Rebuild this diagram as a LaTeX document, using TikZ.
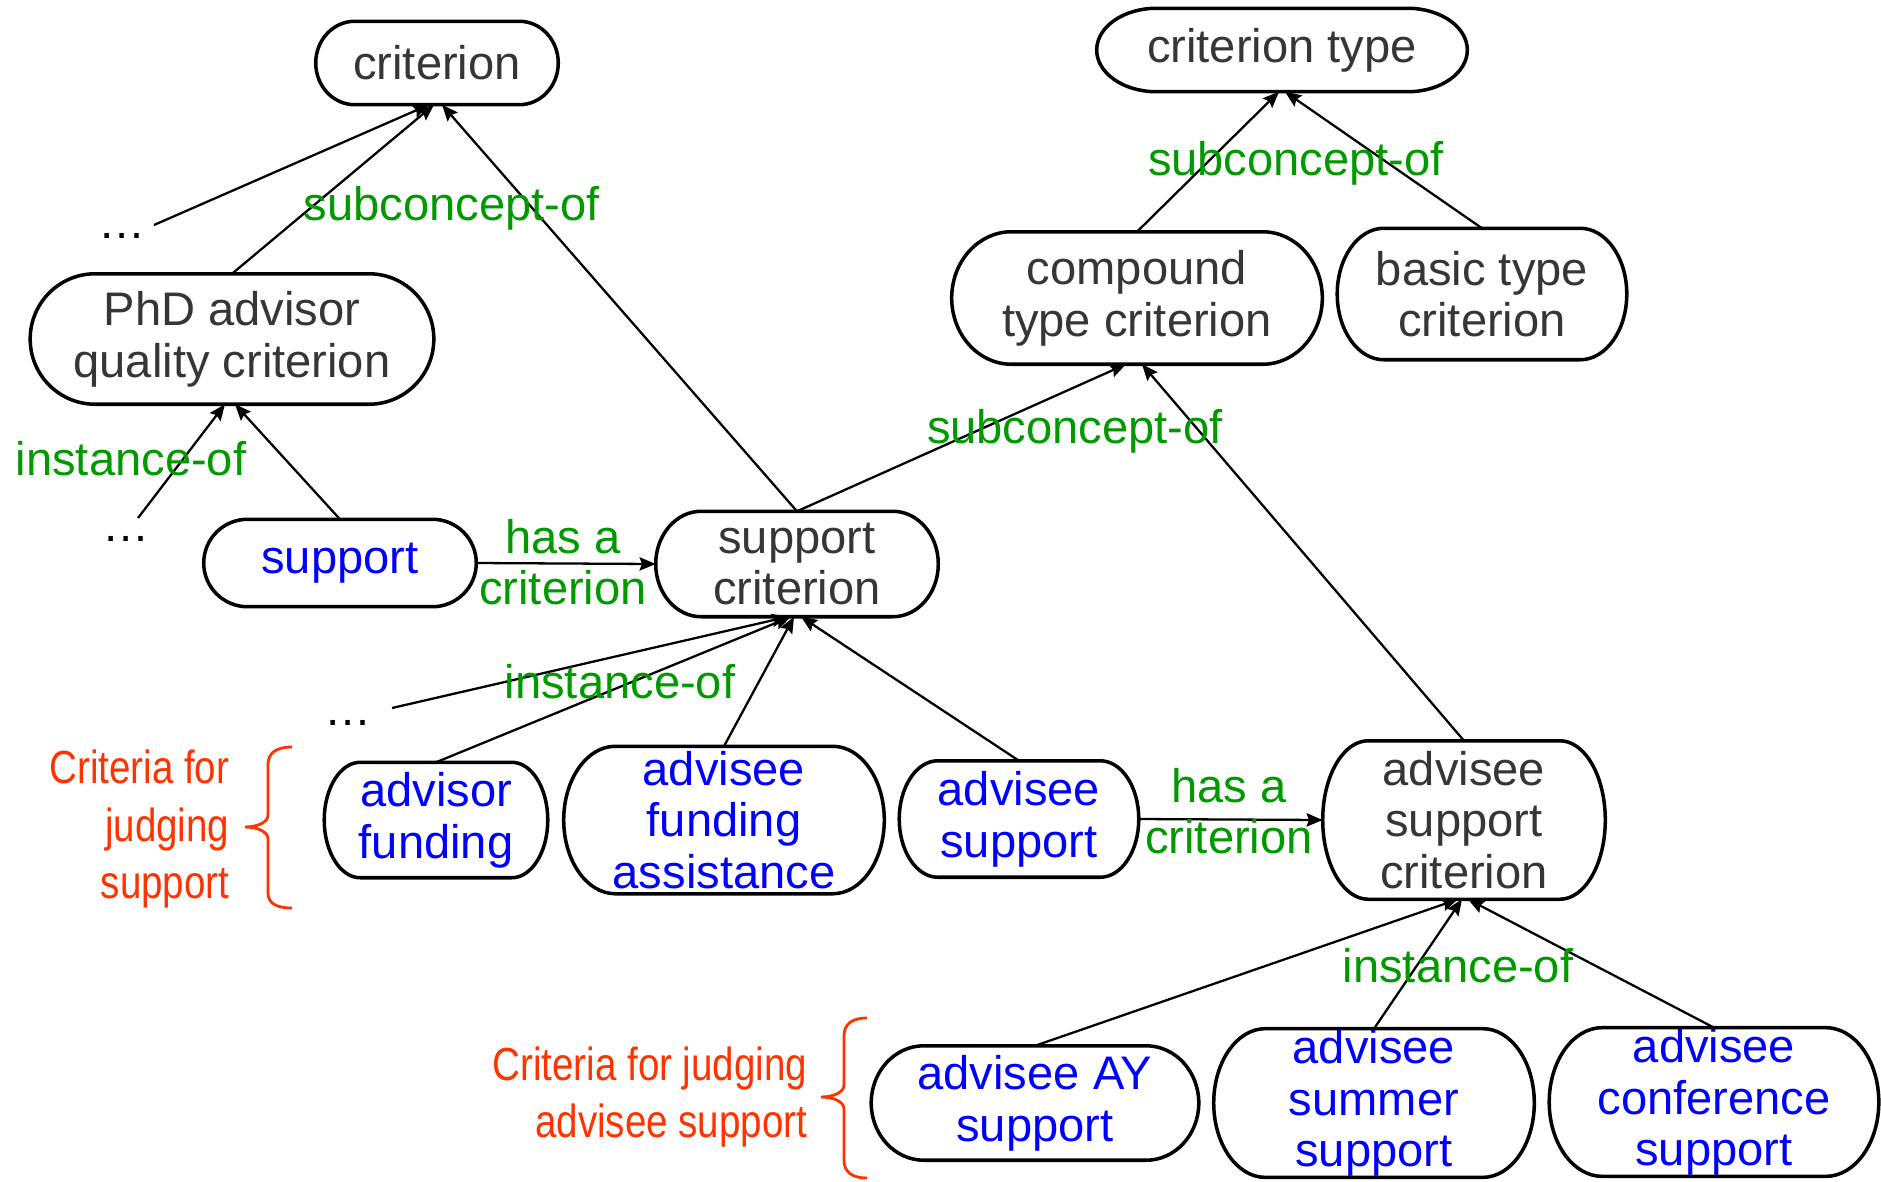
\documentclass[tikz,border=0pt]{standalone}
\usepackage{fontspec}
\setmainfont{Liberation Sans}
\newfontfamily\narrowfont{Liberation Sans}[FakeStretch=0.83]
\usetikzlibrary{calc,arrows.meta}
\definecolor{cgray}{HTML}{363636}
\definecolor{cblue}{HTML}{0000FF}
\definecolor{cgreen}{HTML}{009900}
\definecolor{cred}{HTML}{FF3300}
\newcommand\termout[1]{%
  \draw[nodeline] let \p1=(#1.south west), \p2=(#1.north east),
    \n1={0.161*abs(\x2-\x1)}, \n2={0.5*abs(\y2-\y1)} in
    (\x1+\n1,\y2) -- (\x2-\n1,\y2)
    arc[start angle=90,end angle=-90,x radius=\n1,y radius=\n2]
    -- (\x1+\n1,\y1)
    arc[start angle=270,end angle=90,x radius=\n1,y radius=\n2] -- cycle;}
\tikzset{
  nodeline/.style={line width=1pt, line join=round},
  box/.style={draw=none, inner sep=0pt, align=center,
    font=\fontsize{13.4}{14.7}\selectfont},
  concept/.style={box, text=cgray},
  inst/.style={box, text=cblue},
  rel/.style={inner sep=0pt, align=center, text=cgreen,
    font=\fontsize{13.4}{14.6}\selectfont},
  dots/.style={inner sep=0pt, font=\fontsize{13.4}{14.6}\selectfont},
  note/.style={inner sep=0pt, align=right, text=cred,
    font=\fontsize{13.2}{16.3}\selectfont\narrowfont},
  edge/.style={line width=0.65pt, -{Stealth[length=4.6pt,width=3.8pt,inset=0.7pt]}},
  bracepath/.style={draw=cred, line width=0.8pt},
}
\begin{document}
\begin{tikzpicture}[x=0.01cm,y=-0.01cm]
\useasboundingbox (0,0) rectangle (1881,1181);

% concept nodes
\node[concept, minimum width=2.41cm, minimum height=0.82cm] (crit) at (437,63) {criterion};
\node[concept, minimum width=3.69cm, minimum height=0.82cm] (ctype) at (1282,50) {criterion type};
\node[concept, minimum width=3.69cm, minimum height=1.31cm] (comp) at (1137,298) {compound\\type criterion};
\node[concept, minimum width=2.88cm, minimum height=1.30cm] (basic) at (1482,294) {basic type\\criterion};
\node[concept, minimum width=4.02cm, minimum height=1.29cm] (pqc) at (232,339) {PhD advisor\\quality criterion};
\node[concept, minimum width=2.81cm, minimum height=1.04cm] (sc) at (797,564) {support\\criterion};
\node[concept, minimum width=2.81cm, minimum height=1.57cm] (asc) at (1464,820) {advisee\\support\\criterion};

% instance nodes
\node[inst, minimum width=2.71cm, minimum height=0.86cm] (sup) at (340,563) {support};
\node[inst, minimum width=2.22cm, minimum height=1.14cm] (af) at (436,820) {advisor\\funding};
\node[inst, minimum width=3.19cm, minimum height=1.46cm] (afa) at (724,820) {advisee\\funding\\assistance};
\node[inst, minimum width=2.38cm, minimum height=1.15cm] (as) at (1019,819) {advisee\\support};
\node[inst, minimum width=3.26cm, minimum height=1.13cm] (ay) at (1035,1103) {advisee AY\\support};
\node[inst, minimum width=3.19cm, minimum height=1.45cm] (summ) at (1374,1103) {advisee\\summer\\support};
\node[inst, minimum width=3.28cm, minimum height=1.44cm] (conf) at (1714,1102) {advisee\\conference\\support};

\foreach \nm in {crit,ctype,comp,basic,pqc,sc,asc,sup,af,afa,as,ay,summ,conf}{\termout{\nm}}

% ellipses
\node[dots] (d1) at (122,236) {…};
\node[dots] (d2) at (126,539) {…};
\node[dots] (d3) at (348,723) {…};
\coordinate (d1e) at (154,225);
\coordinate (d2e) at (138,518);
\coordinate (d3e) at (392,708);

% connectors
\draw[edge] (d1e) -- ($(crit.south)+(-8,0)$);
\draw[edge] (pqc.north) -- ($(crit.south)+(-3,0)$);
\draw[edge] (sc.north) -- ($(crit.south)+(5,0)$);
\draw[edge] (sc.north) -- ($(comp.south)+(-11,0)$);
\draw[edge] (asc.north) -- ($(comp.south)+(5,0)$);
\draw[edge] (comp.north) -- ($(ctype.south)+(-3,0)$);
\draw[edge] (basic.north) -- ($(ctype.south)+(3,0)$);
\draw[edge] (d2e) -- ($(pqc.south)+(-7,0)$);
\draw[edge] (sup.north) -- ($(pqc.south)+(3,0)$);
\draw[edge] (sup.east) -- (sc.west);
\draw[edge] (d3e) -- ($(sc.south)+(-9,0)$);
\draw[edge] (af.north) -- ($(sc.south)+(-6,0)$);
\draw[edge] (afa.north) -- ($(sc.south)+(-3,0)$);
\draw[edge] (as.north) -- ($(sc.south)+(4,0)$);
\draw[edge] (as.east) -- (asc.west);
\draw[edge] (ay.north) -- ($(asc.south)+(-6,0)$);
\draw[edge] (summ.north) -- ($(asc.south)+(-2,0)$);
\draw[edge] (conf.north) -- ($(asc.south)+(4,0)$);

% relation labels
\node[rel, anchor=base] (l1) at (452,220) {subconcept-of};
\node[rel, anchor=base] (l2) at (131,475) {instance-of};
\node[rel, anchor=base] (l3) at (1296,175) {subconcept-of};
\node[rel, anchor=base] (l4) at (1075,443) {subconcept-of};
\node[rel] (l5) at (563,562) {has a\\criterion};
\node[rel, anchor=base] (l6) at (620,698) {instance-of};
\node[rel] (l7) at (1229,811) {has a\\criterion};
\node[rel, anchor=base] (l8) at (1458,982) {instance-of};

% notes
\node[note, anchor=east] (n1) at (230,829) {Criteria for\\judging\\support};
\node[note, anchor=east] (n2) at (808,1097) {Criteria for judging\\advisee support};

% braces
\draw[bracepath] (292,747) .. controls (276,747) and (268,753) .. (268,765) -- (268,815)
  .. controls (268,822) and (258,827) .. (245,827)
  .. controls (258,827) and (268,832) .. (268,839) -- (268,893)
  .. controls (268,903) and (276,908) .. (292,908);
\draw[bracepath] (867,1018) .. controls (852,1018) and (844,1024) .. (844,1036) -- (844,1085)
  .. controls (844,1092) and (834,1097) .. (821,1097)
  .. controls (834,1097) and (844,1102) .. (844,1109) -- (844,1160)
  .. controls (844,1172) and (852,1178) .. (867,1178);
\end{tikzpicture}
\end{document}
